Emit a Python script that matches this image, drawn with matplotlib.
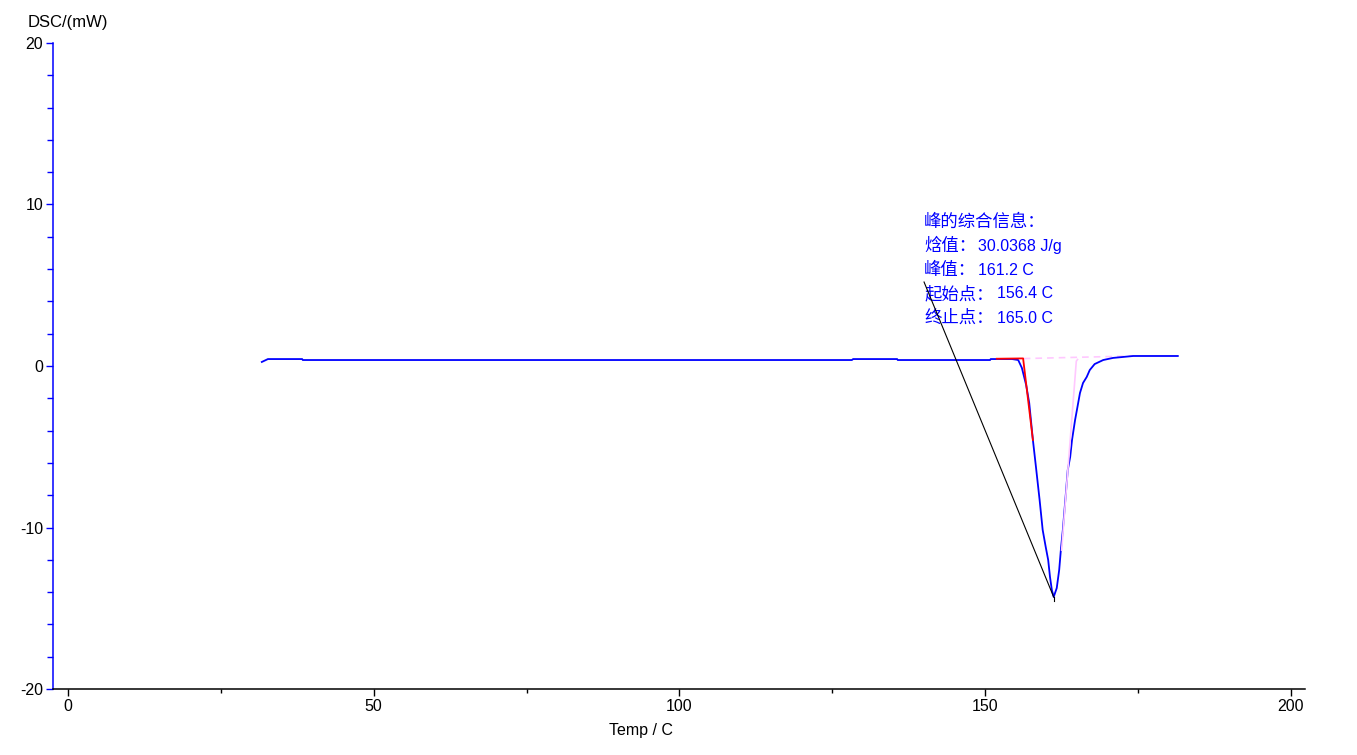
import matplotlib
matplotlib.use("Agg")
import matplotlib.pyplot as plt
from matplotlib.ticker import MultipleLocator

plt.rcParams['font.family'] = ['Liberation Sans', 'Noto Sans CJK SC', 'DejaVu Sans']
plt.rcParams['axes.unicode_minus'] = False

# DSC curve (Temp in C, DSC in mW)
temp = [31.7, 32.7, 38.3, 38.4, 128.2, 128.4, 135.6, 135.7, 150.8, 150.9, 154.4,
        155.4, 156.0, 156.7, 157.2, 157.8, 158.3, 158.9, 159.4, 159.9, 160.3,
        160.6, 160.9, 161.2, 161.7, 162.1, 162.4, 162.7, 163.2, 163.5, 163.9,
        164.2, 164.7, 165.0, 165.5, 166.0, 166.6, 167.1, 167.9, 169.3, 170.9,
        174.2, 181.5]
dsc = [0.25, 0.43, 0.43, 0.37, 0.37, 0.43, 0.43, 0.37, 0.37, 0.43, 0.43,
       0.37, -0.12, -1.18, -2.29, -4.58, -6.25, -8.30, -10.15, -11.21, -12.01,
       -13.07, -13.87, -14.3, -13.75, -12.63, -11.27, -10.15, -7.86, -6.44, -5.63,
       -4.58, -3.34, -2.72, -1.67, -1.05, -0.68, -0.25, 0.12, 0.37, 0.50,
       0.62, 0.62]

# onset tangent (red)
onset_x = [151.9, 156.2, 157.8]
onset_y = [0.45, 0.47, -4.58]
# peak baseline (pink dashed) and end tangent (pink)
base_x = [156.3, 174.2]
base_y = [0.46, 0.62]
end_x = [162.5, 164.9, 165.1]
end_y = [-11.4, 0.3, 0.40]

# annotation
peak_x, peak_y = 161.2, -14.3
label_x = 140.0
info_keys = ["峰的综合信息：", "焓值：", "峰值：", "起始点：", "终止点："]
info_vals = ["", "30.0368 J/g", "161.2 C", "156.4 C", "165.0 C"]
info_val_x = [0, 148.9, 148.9, 152.0, 152.0]
info_y = [8.92, 7.43, 5.94, 4.46, 2.97]
leader_start_y = 5.2

fig = plt.figure(figsize=(13.57, 7.55), dpi=100)
ax = fig.add_axes([53/1357, 66/755, (1305-53)/1357, (689-43)/755])

ax.plot(temp, dsc, color='#0000ff', lw=1.3, zorder=3)
ax.plot(onset_x, onset_y, color='#ff0000', lw=1.3, zorder=4)
ax.plot(base_x, base_y, color='#ffc8ff', lw=1.2, ls=(0, (4, 3)), zorder=2)
ax.plot(end_x, end_y, color='#ffc8ff', lw=1.2, zorder=4)

ax.plot([label_x, peak_x], [leader_start_y, peak_y], color='black', lw=0.8, zorder=5)
ax.plot([peak_x, peak_x], [peak_y, peak_y - 0.25], color='black', lw=0.8, zorder=5)

for k, v, vx, yy in zip(info_keys, info_vals, info_val_x, info_y):
    ax.text(label_x, yy, k, color='#0000ff', fontsize=12.5, va='center', ha='left',
            family=['Noto Sans CJK SC', 'DejaVu Sans'])
    if v:
        ax.text(vx, yy, v, color='#0000ff', fontsize=11.5, va='center', ha='left',
                family=['Liberation Sans', 'DejaVu Sans'])

ax.set_xlim(-2.45, 202.3)
ax.set_ylim(-20, 20)

for sp in ['top', 'right']:
    ax.spines[sp].set_visible(False)
ax.spines['left'].set_color('#0000ff')
ax.spines['left'].set_linewidth(1.1)
ax.spines['bottom'].set_color('black')
ax.spines['bottom'].set_linewidth(1.1)

ax.xaxis.set_major_locator(MultipleLocator(50))
ax.xaxis.set_minor_locator(MultipleLocator(25))
ax.yaxis.set_major_locator(MultipleLocator(10))
ax.yaxis.set_minor_locator(MultipleLocator(2))
ax.tick_params(axis='x', which='major', length=5, width=1, color='black',
               labelsize=11.5, pad=2)
ax.tick_params(axis='x', which='minor', length=3, width=1, color='black')
ax.tick_params(axis='y', which='major', length=5, width=1, color='#0000ff',
               labelsize=11.5, pad=2)
ax.tick_params(axis='y', which='minor', length=4, width=1, color='#0000ff')

fig.text(28/1357, 1 - 22/755, "DSC/(mW)", fontsize=12, ha='left', va='center')
fig.text(641/1357, 1 - 730/755, "Temp / C", fontsize=11.5, ha='center', va='center')

fig.savefig("out.png", dpi=100)
